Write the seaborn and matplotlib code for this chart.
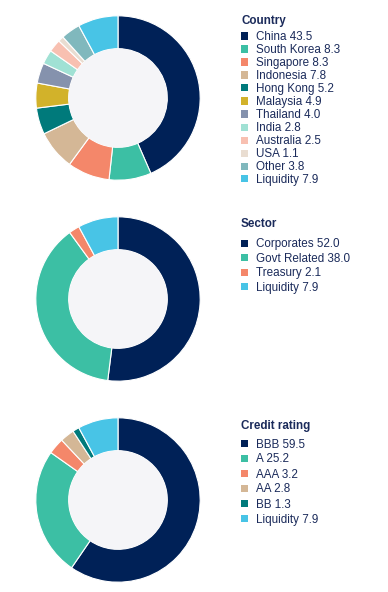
"""
Donut charts: country, sector and credit rating breakdown.
"""

import matplotlib.pyplot as plt
from matplotlib.patches import Circle, Rectangle
import seaborn as sns

# ------------------------------------------------------------------
# Data
# ------------------------------------------------------------------

country_labels = ["China", "South Korea", "Singapore", "Indonesia", "Hong Kong",
                  "Malaysia", "Thailand", "India", "Australia", "USA", "Other",
                  "Liquidity"]
country_values = [43.5, 8.3, 8.3, 7.8, 5.2, 4.9, 4.0, 2.8, 2.5, 1.1, 3.8, 7.9]

sector_labels = ["Corporates", "Govt Related", "Treasury", "Liquidity"]
sector_values = [52.0, 38.0, 2.1, 7.9]

rating_labels = ["BBB", "A", "AAA", "AA", "BB", "Liquidity"]
rating_values = [59.5, 25.2, 3.2, 2.8, 1.3, 7.9]

NAVY = "#002157"
GREEN = "#3cbfa4"
SALMON = "#f4876a"
TAN = "#d4b796"
DTEAL = "#007a7b"
MUSTARD = "#d2b22a"
SLATE = "#8592ad"
MINT = "#a0e1d4"
PINK = "#f8c0b1"
BEIGE = "#e9ddd1"
GTEAL = "#80b8bd"
SKY = "#48c4e6"

country_colors = sns.color_palette([NAVY, GREEN, SALMON, TAN, DTEAL, MUSTARD,
                                    SLATE, MINT, PINK, BEIGE, GTEAL, SKY])
sector_colors = sns.color_palette([NAVY, GREEN, SALMON, SKY])
rating_colors = sns.color_palette([NAVY, GREEN, SALMON, TAN, DTEAL, SKY])

TEXT_COLOR = "#1b2b5b"
HOLE_COLOR = "#f5f5f8"

W, H = 388, 592

sns.set_theme(style="white")
plt.rcParams["font.family"] = ["Liberation Sans", "DejaVu Sans"]

fig = plt.figure(figsize=(W / 100, H / 100), dpi=100)


# ------------------------------------------------------------------
# One donut + legend
# ------------------------------------------------------------------

def px(x, y):
    # pixel (from top-left) -> figure fraction
    return x / W, 1 - y / H


def draw_donut(cy, labels, values, colors, title, title_y, first_y, step):
    r = 83
    cx = 118
    ax = fig.add_axes([(cx - r) / W, (H - cy - r) / H, 2 * r / W, 2 * r / H])
    wedges, _ = ax.pie(
        values,
        colors=colors,
        startangle=90,
        counterclock=False,
        wedgeprops=dict(width=0.4, edgecolor="white", linewidth=0.8),
    )
    ax.add_patch(Circle((0, 0), 0.6, facecolor=HOLE_COLOR, edgecolor="none"))
    ax.set_xlim(-1.01, 1.01)
    ax.set_ylim(-1.01, 1.01)
    ax.axis("off")

    # legend drawn by hand so the row pitch matches
    fig.text(*px(241, title_y + 4.2), title, fontsize=8.4, fontweight="bold",
             color=TEXT_COLOR, va="baseline", ha="left")
    for i, (lab, val, w) in enumerate(zip(labels, values, wedges)):
        y = first_y + i * step
        x0, y0 = px(241, y + 3.5)
        fig.add_artist(Rectangle((x0, y0), 7 / W, 7 / H,
                                 transform=fig.transFigure,
                                 facecolor=w.get_facecolor(),
                                 edgecolor="none"))
        fig.text(*px(256.5, y + 4.2), f"{lab} {val:.1f}", fontsize=8.4,
                 color=TEXT_COLOR, va="baseline", ha="left")


draw_donut(98, country_labels, country_values, country_colors,
           "Country", 20, 36, 13.0)
draw_donut(299, sector_labels, sector_values, sector_colors,
           "Sector", 223, 243.3, 14.4)
draw_donut(500, rating_labels, rating_values, rating_colors,
           "Credit rating", 425, 443.3, 15.0)

fig.savefig("out.png", dpi=100)
plt.close(fig)
